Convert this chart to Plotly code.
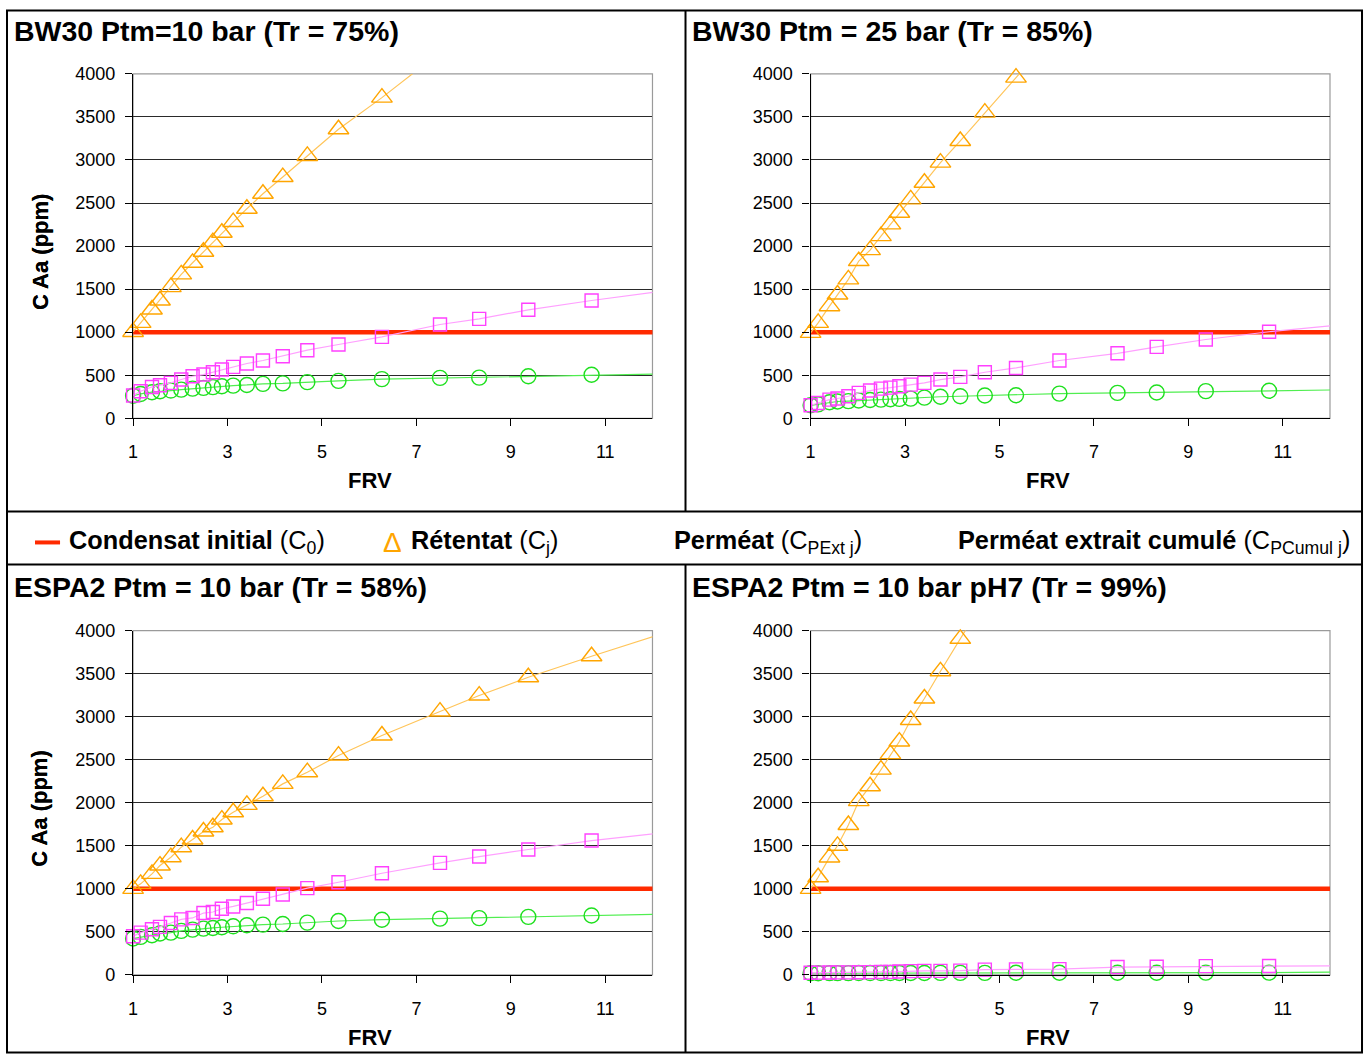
import plotly.graph_objects as go

W, H = 1368, 1063

# ---------------- data ----------------
FRV = [1.0, 1.16, 1.40, 1.57, 1.80, 2.02, 2.26, 2.49, 2.69, 2.88, 3.12,
       3.41, 3.75, 4.17, 4.69, 5.35, 6.27, 7.50, 8.33, 9.37, 10.71]
FRV_END = 12.2          # where the drawn lines leave the plot area
C0 = 1000               # Condensat initial

# BW30 Ptm = 10 bar
BW30_10_RET = [1003, 1108, 1264, 1368, 1523, 1671, 1806, 1934, 2047, 2155, 2279,
               2434, 2608, 2802, 3047, 3357, 3724, 4250, None, None, None]
BW30_10_PEXT = [265, 314, 364, 384, 411, 450, 488, 508, 535, 566, 597,
                636, 671, 721, 791, 857, 946, 1089, 1155, 1260, 1368]
BW30_10_PCUM = [262, 283, 303, 314, 322, 333, 345, 353, 362, 372, 380,
                387, 400, 405, 420, 435, 455, 469, 472, 488, 505]
BW30_10_END = [None, 1477, 515]

# BW30 Ptm = 25 bar
BW30_25_RET = [992, 1108, 1302, 1438, 1613, 1826, 1953, 2116, 2252, 2387, 2543,
               2736, 2969, 3221, 3550, 3957, 4530, None, None, None, None]
BW30_25_PEXT = [151, 178, 217, 230, 256, 295, 322, 345, 356, 372, 391,
                411, 450, 481, 535, 585, 671, 755, 830, 915, 1005]
BW30_25_PCUM = [151, 162, 186, 195, 200, 206, 212, 217, 222, 225, 229,
                240, 250, 256, 264, 268, 287, 295, 300, 315, 320]
BW30_25_END = [None, 1085, 330]

# ESPA2 Ptm = 10 bar
ESPA2_10_RET = [1000, 1058, 1174, 1271, 1368, 1484, 1573, 1666, 1716, 1805, 1890,
                1975, 2076, 2219, 2355, 2548, 2781, 3059, 3245, 3458, 3702]
ESPA2_10_PEXT = [450, 492, 531, 558, 604, 646, 662, 719, 731, 769, 796,
                 835, 885, 935, 1008, 1077, 1181, 1302, 1375, 1457, 1561]
ESPA2_10_PCUM = [423, 442, 462, 481, 492, 512, 527, 538, 546, 554, 565,
                 577, 585, 592, 608, 627, 642, 654, 660, 675, 690]
ESPA2_10_END = [3961, 1650, 705]

# ESPA2 Ptm = 10 bar pH7
ESPA2_PH7_RET = [1000, 1135, 1365, 1500, 1742, 2019, 2192, 2385, 2565, 2711, 2961,
                 3211, 3527, 3904, 4370, None, None, None, None, None, None]
ESPA2_PH7_PEXT = [25, 27, 28, 30, 30, 32, 33, 35, 36, 40, 45,
                  47, 48, 50, 62, 65, 68, 92, 95, 103, 105]
ESPA2_PH7_PCUM = [20, 20, 21, 21, 21, 22, 22, 22, 22, 23, 23,
                  23, 24, 24, 24, 25, 25, 26, 26, 27, 27]
ESPA2_PH7_END = [None, 106, 35]

TITLES = ["BW30 Ptm=10 bar (Tr = 75%)", "BW30 Ptm = 25 bar (Tr = 85%)",
          "ESPA2 Ptm = 10 bar (Tr = 58%)", "ESPA2 Ptm = 10 bar pH7 (Tr = 99%)"]
PANELS = [
    (BW30_10_RET, BW30_10_PEXT, BW30_10_PCUM, BW30_10_END),
    (BW30_25_RET, BW30_25_PEXT, BW30_25_PCUM, BW30_25_END),
    (ESPA2_10_RET, ESPA2_10_PEXT, ESPA2_10_PCUM, ESPA2_10_END),
    (ESPA2_PH7_RET, ESPA2_PH7_PEXT, ESPA2_PH7_PCUM, ESPA2_PH7_END),
]
X_TICKS = [1, 3, 5, 7, 9, 11]
X_RANGE = [1, 12]
Y_RANGE = [0, 4000]

# ---------------- styling ----------------
FONT = "Liberation Sans, Arial, sans-serif"
RED = "#FF2A00"
ORANGE_M, ORANGE_L = "#FFA500", "#FFC55A"
PINK_M, PINK_L = "#FF40FF", "#FFA0FF"
GREEN_M, GREEN_L = "#1EE01E", "#50EE50"

# target pixel boxes of the plot areas in the picture (left, right, top, bottom)
BOXES = [(133, 652, 73, 417), (810, 1329, 73, 417),
         (133, 652, 629, 973), (810, 1329, 629, 973)]
TITLE_POS = [(12, 30), (689, 30), (12, 586), (689, 586)]

# the captured page shows the figure slightly shifted/scaled; pre-compensate
SX, OX = 0.9956, 5.0
SY, OY = 0.980, 9.2


def px(x):
    return min(max((x - OX) / SX, 0.5), W - 0.5) / W


def py(y):
    return 1 - min(max((y - OY) / SY, 0.5), H - 0.5) / H


fig = go.Figure()
layout = dict(width=W, height=H, margin=dict(l=0, r=0, t=0, b=0, pad=0),
              autosize=False,
              paper_bgcolor="white", plot_bgcolor="white",
              showlegend=False, font=dict(family=FONT, color="black"))
annotations = []
shapes = []

for i, (box, data) in enumerate(zip(BOXES, PANELS)):
    n = "" if i == 0 else str(i + 1)
    xa, ya = "x" + n, "y" + n
    l, r, t, b = box
    layout["xaxis" + n] = dict(
        domain=[px(l), px(r)], range=X_RANGE, anchor=ya, tickvals=X_TICKS,
        ticks="outside", ticklen=7, tickcolor="black", tickwidth=1,
        showline=True, linecolor="black", linewidth=1.3, showgrid=False,
        zeroline=False, tickfont=dict(size=18), ticklabelstandoff=10)
    layout["yaxis" + n] = dict(
        domain=[py(b), py(t)], range=Y_RANGE, anchor=xa, dtick=500,
        ticks="outside", ticklen=7, tickcolor="black", tickwidth=1,
        showline=True, linecolor="black", linewidth=1.3, showgrid=True,
        gridcolor="#2a2a2a", gridwidth=1.2, zeroline=False,
        tickfont=dict(size=18), ticklabelstandoff=6)

    ret, pext, pcum, end = data
    xs = FRV + [FRV_END]

    # Condensat initial
    fig.add_trace(go.Scatter(x=[FRV[0], FRV_END], y=[C0, C0], mode="lines",
                             line=dict(color=RED, width=4.5), xaxis=xa, yaxis=ya))

    series = [
        (pcum, end[2], GREEN_M, GREEN_L, "circle-open", 15),
        (pext, end[1], PINK_M, PINK_L, "square-open", 13),
        (ret, end[0], ORANGE_M, ORANGE_L, "triangle-up-open", 18),
    ]
    for vals, endv, cm, cl, sym, size in series:
        fig.add_trace(go.Scatter(x=xs, y=vals + [endv], mode="lines",
                                 line=dict(color=cl, width=1.2),
                                 xaxis=xa, yaxis=ya))
        mx = [x for x, v in zip(FRV, vals) if v is not None and v <= Y_RANGE[1]]
        my = [v for v in vals if v is not None and v <= Y_RANGE[1]]
        fig.add_trace(go.Scatter(x=mx, y=my, mode="markers", cliponaxis=False,
                                 marker=dict(symbol=sym, size=size, color=cm,
                                             line=dict(color=cm, width=1.4)),
                                 xaxis=xa, yaxis=ya))

    # light grey plot-area frame (right / top)
    shapes.append(dict(type="rect", xref=xa + " domain", yref=ya + " domain",
                       x0=0, x1=1, y0=0, y1=1, layer="below",
                       line=dict(color="#9a9a9a", width=1.2)))

    # panel title
    tx, ty = TITLE_POS[i]
    annotations.append(dict(text="<b>%s</b>" % TITLES[i], xref="paper", yref="paper",
                            x=px(tx), y=py(ty), xanchor="left", yanchor="middle",
                            showarrow=False, font=dict(size=28.5)))
    # y title
    annotations.append(dict(text="<b>C Aa (ppm)</b>", xref="paper", yref="paper",
                            x=px(40), y=py((t + b) / 2 + 6), textangle=-90,
                            xanchor="center", yanchor="middle",
                            showarrow=False, font=dict(size=22)))
    # x title
    annotations.append(dict(text="<b>FRV</b>", xref="paper", yref="paper",
                            x=px(l + 237), y=py(b + 62), xanchor="center",
                            yanchor="middle", showarrow=False, font=dict(size=22)))

# ---------------- frame ----------------
FL = dict(color="black", width=2)
shapes += [
    dict(type="rect", xref="paper", yref="paper", x0=px(7), x1=px(1361),
         y0=py(1062), y1=py(8), line=FL),
    dict(type="line", xref="paper", yref="paper", x0=px(7), x1=px(1361),
         y0=py(510), y1=py(510), line=FL),
    dict(type="line", xref="paper", yref="paper", x0=px(7), x1=px(1361),
         y0=py(563), y1=py(563), line=FL),
    dict(type="line", xref="paper", yref="paper", x0=px(685), x1=px(685),
         y0=py(510), y1=py(8), line=FL),
    dict(type="line", xref="paper", yref="paper", x0=px(685), x1=px(685),
         y0=py(1062), y1=py(563), line=FL),
    # legend key for Condensat initial
    dict(type="line", xref="paper", yref="paper", x0=px(35), x1=px(60),
         y0=py(541), y1=py(541), line=dict(color=RED, width=4)),
]

# ---------------- legend row ----------------
LEG_Y = 541
legend_items = [
    (67, "<b>Condensat initial</b> (C<sub>0</sub>)", 25.3, "black"),
    (381, "Δ", 28, ORANGE_M),
    (409, "<b>Rétentat</b> (C<sub>j</sub>)", 25.3, "black"),
    (672, "<b>Perméat</b> (C<sub>PExt j</sub>)", 25.3, "black"),
    (955, "<b>Perméat extrait cumulé</b> (C<sub>PCumul j</sub>)", 25.3, "black"),
]
for x, txt, sz, col in legend_items:
    annotations.append(dict(text=txt, xref="paper", yref="paper", x=px(x),
                            y=py(LEG_Y), xanchor="left", yanchor="middle",
                            showarrow=False, font=dict(size=sz, color=col)))

layout["annotations"] = annotations
layout["shapes"] = shapes
fig.update_layout(**layout)
fig.write_html(
    "out.html",
    config={"displayModeBar": False},
    post_script="document.documentElement.style.margin='0';"
                "document.documentElement.style.padding='0';"
                "document.body.style.margin='0';"
                "document.body.style.padding='0';"
                "document.body.style.overflow='hidden';",
)
